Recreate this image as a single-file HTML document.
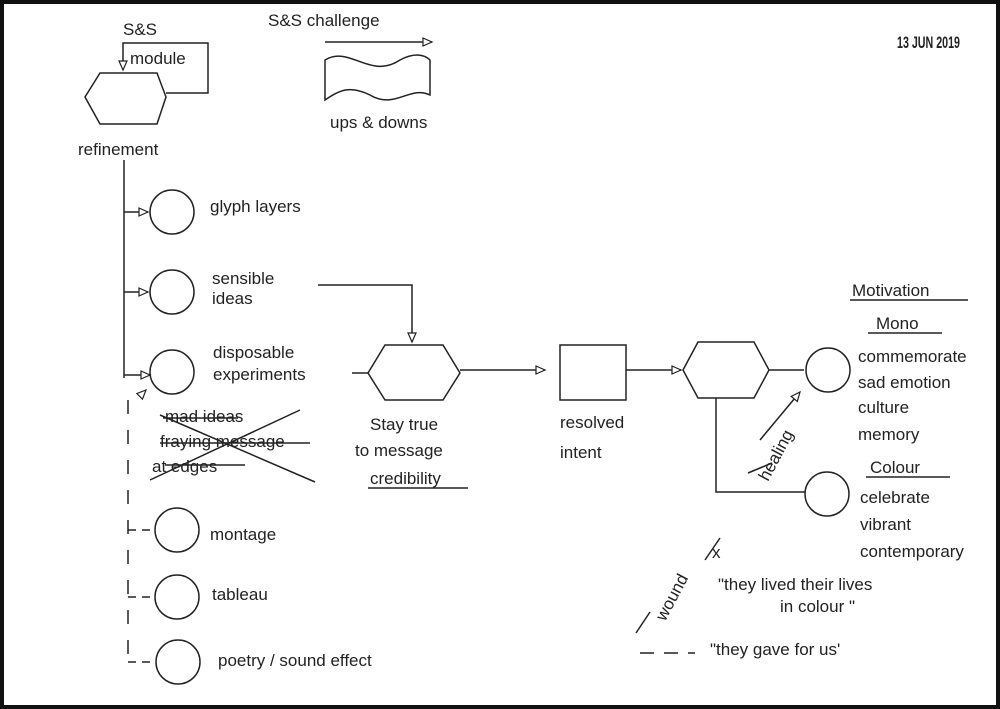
<!DOCTYPE html>
<html><head><meta charset="utf-8"><style>
html,body{margin:0;padding:0;background:#fff}
svg{display:block}
text{font-family:"Liberation Sans",sans-serif;font-size:17px;fill:#222}
</style></head><body>
<svg width="1000" height="709" viewBox="0 0 1000 709" xmlns="http://www.w3.org/2000/svg">
<defs><marker id="a" markerWidth="12" markerHeight="10" refX="10" refY="5" orient="auto" markerUnits="userSpaceOnUse"><path d="M1,1 L10,5 L1,9 Z" fill="#fff" stroke="#222" stroke-width="1.2"/></marker></defs>
<rect x="2" y="2" width="996" height="705" fill="#fff" stroke="#111" stroke-width="4"/>
<g fill="none" stroke="#222" stroke-width="1.5">
<polygon points="85,97 100,73 157,73 166,97 157,124 100,124"/>
<polyline points="166,93 208,93 208,43 123,43 123,70" marker-end="url(#a)"/>
<line x1="124" y1="160" x2="124" y2="378"/>
<line x1="124" y1="212" x2="148" y2="212" marker-end="url(#a)"/>
<line x1="124" y1="292" x2="148" y2="292" marker-end="url(#a)"/>
<line x1="124" y1="375" x2="150" y2="375" marker-end="url(#a)"/>
<circle cx="172" cy="212" r="22"/><circle cx="172" cy="292" r="22"/><circle cx="172" cy="372" r="22"/>
<polyline points="318,285 412,285 412,342" marker-end="url(#a)"/>
<polygon points="368,373 385,345 443,345 460,373 443,400 385,400"/>
<line x1="352" y1="373" x2="368" y2="373"/>
<line x1="460" y1="370" x2="545" y2="370" marker-end="url(#a)"/>
<rect x="560" y="345" width="66" height="55"/>
<line x1="626" y1="370" x2="681" y2="370" marker-end="url(#a)"/>
<polygon points="683,370 698,342 754,342 769,370 754,398 698,398"/>
<line x1="769" y1="370" x2="804" y2="370"/>
<circle cx="828" cy="370" r="22"/><circle cx="827" cy="494" r="22"/>
<polyline points="716,398 716,492 805,492"/>
<line x1="760" y1="440" x2="800" y2="392" marker-end="url(#a)"/>
<line x1="128" y1="400" x2="128" y2="662" stroke-dasharray="14,16"/>
<line x1="140" y1="396" x2="146" y2="390" marker-end="url(#a)"/>
<line x1="128" y1="530" x2="155" y2="530" stroke-dasharray="8,6"/>
<line x1="128" y1="597" x2="155" y2="597" stroke-dasharray="8,6"/>
<line x1="128" y1="662" x2="156" y2="662" stroke-dasharray="8,6"/>
<circle cx="177" cy="530" r="22"/><circle cx="177" cy="597" r="22"/><circle cx="178" cy="662" r="22"/>
<line x1="150" y1="480" x2="300" y2="410"/><line x1="160" y1="415" x2="315" y2="482"/>
<line x1="163" y1="418" x2="238" y2="418"/><line x1="160" y1="443" x2="310" y2="443"/><line x1="165" y1="465" x2="245" y2="465"/>
<line x1="325" y1="42" x2="432" y2="42" marker-end="url(#a)"/>
<path d="M325,60 C350,45 370,80 400,60 C415,52 425,55 430,60 L430,95 C410,85 395,110 370,95 C350,85 340,90 325,100 Z"/>
<line x1="850" y1="300" x2="968" y2="300"/><line x1="868" y1="333" x2="942" y2="333"/>
<line x1="866" y1="477" x2="950" y2="477"/>
<line x1="368" y1="488" x2="468" y2="488"/>
<line x1="636" y1="633" x2="650" y2="612"/><line x1="705" y1="560" x2="720" y2="538"/>
<line x1="640" y1="653" x2="654" y2="653"/><line x1="664" y1="653" x2="678" y2="653"/><line x1="688" y1="653" x2="695" y2="653"/>
<line x1="748" y1="473" x2="772" y2="463"/>
</g>
<text x="123" y="35">S&amp;S</text>
<text x="130" y="64">module</text>
<text x="78" y="155">refinement</text>
<text x="268" y="26" font-size="19">S&amp;S challenge</text>
<text x="330" y="128">ups &amp; downs</text>
<text x="897" y="48" font-size="12" font-weight="bold" textLength="63" lengthAdjust="spacingAndGlyphs">13 JUN 2019</text>
<text x="210" y="212">glyph layers</text>
<text x="212" y="284">sensible</text><text x="212" y="304">ideas</text>
<text x="213" y="358">disposable</text><text x="213" y="380">experiments</text>
<text x="165" y="422">mad ideas</text><text x="160" y="447">fraying message</text><text x="152" y="472">at edges</text>
<text x="370" y="430">Stay true</text><text x="355" y="456">to message</text><text x="370" y="484">credibility</text>
<text x="560" y="428">resolved</text><text x="560" y="458">intent</text>
<text x="852" y="296">Motivation</text>
<text x="876" y="329">Mono</text>
<text x="858" y="362">commemorate</text><text x="858" y="388">sad emotion</text><text x="858" y="413">culture</text><text x="858" y="440">memory</text>
<text x="870" y="473">Colour</text>
<text x="860" y="503">celebrate</text><text x="860" y="530">vibrant</text><text x="860" y="557">contemporary</text>
<text x="718" y="590">"they lived their lives</text><text x="780" y="612">in colour "</text>
<text x="710" y="655">"they gave for us'</text>
<text x="0" y="0" font-size="14" transform="translate(768,482) rotate(-62)">healing</text>
<text x="0" y="0" font-size="14" transform="translate(665,622) rotate(-62)">wound</text>
<text x="712" y="558" font-size="14">x</text>
<text x="210" y="540">montage</text>
<text x="212" y="600">tableau</text>
<text x="218" y="666">poetry / sound effect</text>
</svg>
</body></html>
